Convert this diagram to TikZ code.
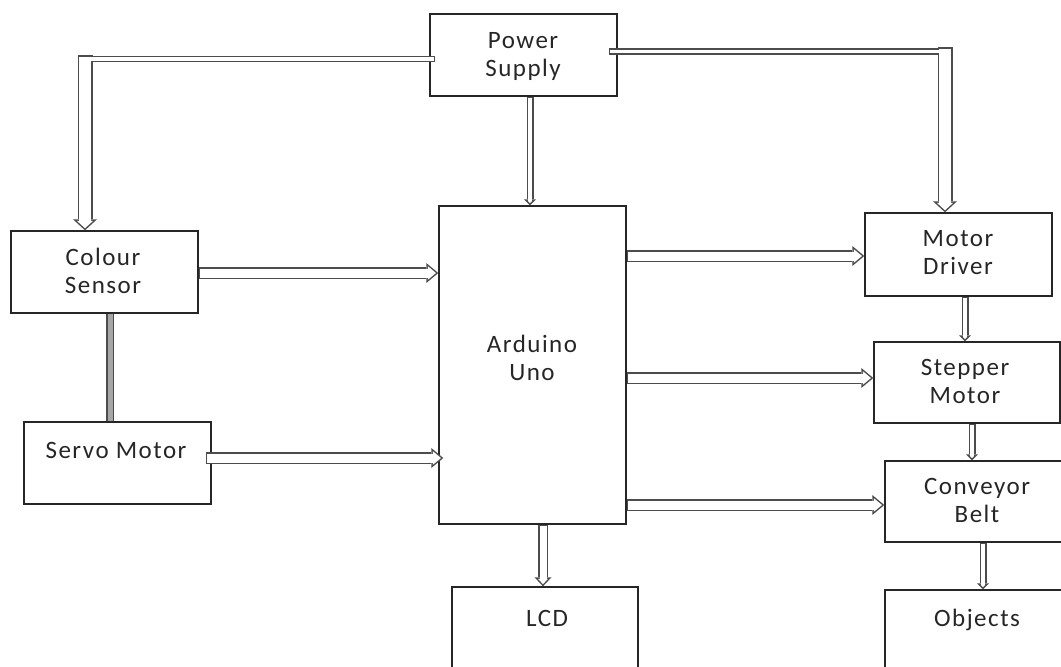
\documentclass[tikz,border=0pt]{standalone}
\usepackage{fontspec}
\newfontfamily\lblfont[LetterSpace=6]{Carlito}
\usetikzlibrary{arrows.meta}
\begin{document}
\begin{tikzpicture}[x=1pt,y=-1pt,
  box/.style={draw=black!85,line width=1.4pt,minimum width=187pt,minimum height=82pt,inner sep=0pt,fill=none},
  lbl/.style={align=center,text=black!85,font=\lblfont\fontsize{25}{28}\selectfont,inner sep=0pt},
  bigv/.style={draw=black!70,line width=15pt,-{Triangle[length=11pt,width=24pt,line width=0pt]},
    postaction={draw=white,line width=12pt,-{Triangle[length=7.47pt,width=16.3pt,line width=0pt]},shorten >=2.03pt,shorten <=1.5pt}},
  harr/.style={draw=black!70,line width=12pt,-{Triangle[length=12pt,width=20pt,line width=0pt]},
    postaction={draw=white,line width=9pt,-{Triangle[length=8.16pt,width=13.6pt,line width=0pt]},shorten >=2.34pt,shorten <=1.5pt}},
  smarr/.style={draw=black!70,line width=7pt,-{Triangle[length=6pt,width=12pt,line width=0pt]},
    postaction={draw=white,line width=4pt,-{Triangle[length=2.4pt,width=4.8pt,line width=0pt]},shorten >=2.12pt,shorten <=1.5pt}},
  medarr/.style={draw=black!70,line width=10pt,-{Triangle[length=9pt,width=17pt,line width=0pt]},
    postaction={draw=white,line width=7pt,-{Triangle[length=5.3pt,width=10pt,line width=0pt]},shorten >=2.18pt,shorten <=1.5pt}},
  thinh/.style={draw=black!70,line width=6.5pt,
    postaction={draw=white,line width=3.5pt,shorten <=1.5pt,shorten >=-2.5pt}},
  link/.style={draw=black!70,line width=8pt,postaction={draw=black!35,line width=5pt}}
]
\useasboundingbox (0,0) rectangle (1061,667);
% boxes
\node[box] (ps) at (523.5,55) {};
\node[box,minimum height=318pt] (ard) at (532.5,365) {};
\node[box] (cs) at (104.5,272) {};
\node[box] (sv) at (117.5,463) {};
\node[box,minimum height=83pt] (md) at (958.5,254.5) {};
\node[box,minimum width=186pt,minimum height=81pt] (st) at (967,382.5) {};
\node[box,minimum height=81pt] (cb) at (978.5,501.5) {};
\node[box,minimum width=186pt,minimum height=103pt] (lcd) at (545,638.5) {};
\node[box,minimum height=100pt] (obj) at (978.5,640) {};
% labels
\node[lbl] (psT) at (523,56) {Power\\Supply};
\node[lbl] (ardT) at (532,358) {Arduino\\Uno};
\node[lbl] (csT) at (103,271) {Colour\\Sensor};
\node[lbl] (svT) at (116,450) {Servo Motor};
\node[lbl] (mdT) at (958,253) {Motor\\Driver};
\node[lbl] (stT) at (965,381) {Stepper\\Motor};
\node[lbl] (cbT) at (977,500) {Conveyor\\Belt};
\node[lbl] (lcdT) at (547,618) {LCD};
\node[lbl] (objT) at (977,620) {Objects};
% helper coordinates
\coordinate (kL) at (92.5,59);
\coordinate (kLt) at (85,55);
\coordinate (kR) at (938,51.5);
\coordinate (kRt) at (945,47);
\coordinate (kPA) at (530,0);
\coordinate (kCS) at (0,273);
\coordinate (kSV) at (0,458);
\coordinate (kMD) at (0,256);
\coordinate (kST) at (0,378);
\coordinate (kCB) at (0,505);
\coordinate (kLCD) at (543,0);
\coordinate (kCSV) at (110,0);
\coordinate (kMS) at (965,0);
\coordinate (kSC) at (972,0);
\coordinate (kCO) at (983,0);
% power supply connectors
\draw[bigv] (kLt) -- (kLt |- cs.north);
\draw[thinh] ([xshift=6pt]ps.west |- kL) -- (kL);
\draw[bigv] (kRt) -- (kRt |- md.north);
\draw[thinh] ([xshift=-9pt]ps.east |- kR) -- (kR);
\draw[smarr] (ps.south -| kPA) -- (ard.north -| kPA);
% inputs
\draw[harr] (cs.east |- kCS) -- (ard.west |- kCS);
\draw[harr] ([xshift=-6pt]sv.east |- kSV) -- ([xshift=5pt]ard.west |- kSV);
\draw[link] (cs.south -| kCSV) -- (sv.north -| kCSV);
% outputs
\draw[harr] (ard.east |- kMD) -- (md.west |- kMD);
\draw[harr] (ard.east |- kST) -- (st.west |- kST);
\draw[harr] (ard.east |- kCB) -- (cb.west |- kCB);
\draw[medarr] (ard.south -| kLCD) -- (lcd.north -| kLCD);
\draw[smarr] (md.south -| kMS) -- (st.north -| kMS);
\draw[smarr] (st.south -| kSC) -- (cb.north -| kSC);
\draw[smarr] (cb.south -| kCO) -- (obj.north -| kCO);
\end{tikzpicture}
\end{document}
